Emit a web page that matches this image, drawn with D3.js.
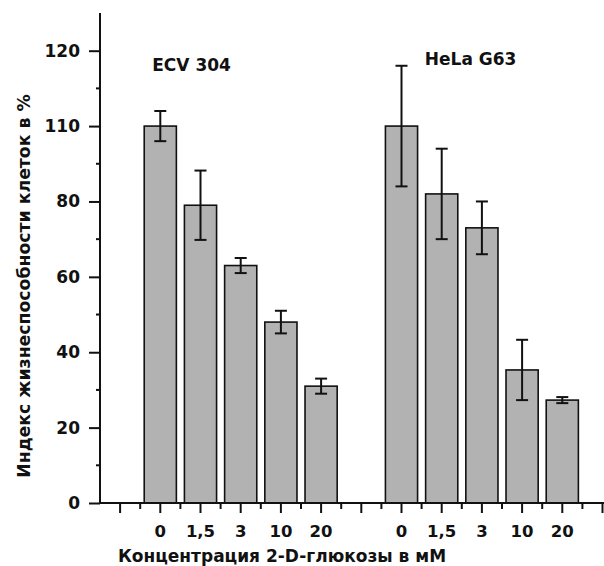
<!DOCTYPE html>
<html>
<head>
<meta charset="utf-8">
<script src="https://cdn.jsdelivr.net/npm/d3@7"></script>
<style>
    body { margin: 0; background: #fff; }
    text { font-family: "DejaVu Sans", sans-serif; font-weight: bold; fill: #111; }
</style>
</head>
<body>
<svg id="chart" width="604" height="566"></svg>
<script>
(function(){
    'use strict';

    // Concentration of 2-D-glucose (mM), same for both cell lines
    var concentrations = ['0', '1,5', '3', '10', '20'];

    // Cell lines
    var groups = ['ECV 304', 'HeLa G63'];

    // Viability index (%) and error bar half-widths
    var ecvValues  = [100, 79, 63, 48, 31];
    var ecvErrors  = [4, 9.2, 2, 3, 2];
    var helaValues = [100, 82, 73, 35.3, 27.3];
    var helaErrors = [16, 12, 7, 8, 0.8];

    // Y tick values and the labels printed on them (as in the original)
    var yTicks      = [0, 20, 40, 60, 80, 100, 120];
    var yTickLabels = ['0', '20', '40', '60', '80', '110', '120'];

    var svg = d3.select('#chart');

    // one empty slot between the two groups
    var slotsPerGroup = concentrations.length + 1;

    var xScale = d3.scaleLinear()
        .domain([-1.5, 11])
        .range([100, 602.5]);

    var yScale = d3.scaleLinear()
        .domain([0, 130])
        .range([503, 13]);

    var barWidth = (xScale(1) - xScale(0)) * 0.8;

    // build bar table
    var bars = [];
    [ecvValues, helaValues].forEach(function(values, g) {
        var errors = g === 0 ? ecvErrors : helaErrors;
        values.forEach(function(v, i) {
            bars.push({ slot: g * slotsPerGroup + i, value: v, err: errors[i], label: concentrations[i] });
        });
    });

    /* bars */
    svg.append('g').selectAll('rect')
        .data(bars)
        .enter()
        .append('rect')
        .attr('x', function(d) { return xScale(d.slot) - barWidth / 2; })
        .attr('y', function(d) { return yScale(d.value); })
        .attr('width', barWidth)
        .attr('height', function(d) { return yScale(0) - yScale(d.value); })
        .attr('fill', '#b2b2b2')
        .attr('stroke', '#111')
        .attr('stroke-width', 1.6);

    /* error bars */
    var capHalf = 6;
    var eg = svg.append('g')
        .attr('stroke', '#111')
        .attr('stroke-width', 2);

    eg.selectAll('line.stem')
        .data(bars)
        .enter()
        .append('line')
        .attr('class', 'stem')
        .attr('x1', function(d) { return xScale(d.slot); })
        .attr('x2', function(d) { return xScale(d.slot); })
        .attr('y1', function(d) { return yScale(d.value + d.err); })
        .attr('y2', function(d) { return yScale(d.value - d.err); });

    ['top', 'bottom'].forEach(function(side) {
        eg.selectAll('line.cap-' + side)
            .data(bars)
            .enter()
            .append('line')
            .attr('class', 'cap-' + side)
            .attr('x1', function(d) { return xScale(d.slot) - capHalf; })
            .attr('x2', function(d) { return xScale(d.slot) + capHalf; })
            .attr('y1', function(d) { return yScale(side === 'top' ? d.value + d.err : d.value - d.err); })
            .attr('y2', function(d) { return yScale(side === 'top' ? d.value + d.err : d.value - d.err); });
    });

    /* y axis */
    var yAxis = d3.axisLeft(yScale)
        .tickValues(yTicks)
        .tickSize(11)
        .tickPadding(9)
        .tickFormat(function(d, i) { return yTickLabels[i]; });

    var yg = svg.append('g')
        .attr('transform', 'translate(100, 0)')
        .call(yAxis);
    yg.select('.domain').remove();
    yg.selectAll('line').attr('stroke', '#111').attr('stroke-width', 2);
    yg.selectAll('text').style('font-size', '17px').style('font-family', '"DejaVu Sans", sans-serif');

    // minor y ticks
    var yMinor = d3.range(10, 130, 20);
    svg.append('g').selectAll('line')
        .data(yMinor)
        .enter()
        .append('line')
        .attr('x1', 96)
        .attr('x2', 100)
        .attr('y1', function(d) { return yScale(d); })
        .attr('y2', function(d) { return yScale(d); })
        .attr('stroke', '#111')
        .attr('stroke-width', 2);

    svg.append('line')
        .attr('x1', 100).attr('x2', 100)
        .attr('y1', yScale(130)).attr('y2', yScale(0) + 1)
        .attr('stroke', '#111')
        .attr('stroke-width', 2);

    /* x axis */
    var majorSlots = d3.range(-1, 12, 1);
    var minorSlots = d3.range(-0.5, 11, 1);

    svg.append('line')
        .attr('x1', 99).attr('x2', 604)
        .attr('y1', yScale(0)).attr('y2', yScale(0))
        .attr('stroke', '#111')
        .attr('stroke-width', 2);

    svg.append('g').selectAll('line')
        .data(majorSlots.filter(function(k) { return xScale(k) < 604; }))
        .enter()
        .append('line')
        .attr('x1', function(d) { return xScale(d); })
        .attr('x2', function(d) { return xScale(d); })
        .attr('y1', yScale(0))
        .attr('y2', yScale(0) + 10)
        .attr('stroke', '#111')
        .attr('stroke-width', 2);

    svg.append('g').selectAll('line')
        .data(minorSlots)
        .enter()
        .append('line')
        .attr('x1', function(d) { return xScale(d); })
        .attr('x2', function(d) { return xScale(d); })
        .attr('y1', yScale(0))
        .attr('y2', yScale(0) + 6)
        .attr('stroke', '#111')
        .attr('stroke-width', 2);

    svg.append('g').selectAll('text')
        .data(bars)
        .enter()
        .append('text')
        .attr('x', function(d) { return xScale(d.slot); })
        .attr('y', 537)
        .attr('text-anchor', 'middle')
        .style('font-size', '16.5px')
        .text(function(d) { return d.label; });

    /* group labels */
    var groupLabelSlot = [-0.2, 6.58];
    var groupLabelValue = [114.5, 116.3];
    svg.append('g').selectAll('text')
        .data(groups)
        .enter()
        .append('text')
        .attr('x', function(d, i) { return xScale(groupLabelSlot[i]); })
        .attr('y', function(d, i) { return yScale(groupLabelValue[i]); })
        .style('font-size', '17px')
        .text(function(d) { return d; });

    /* axis titles */
    svg.append('text')
        .attr('x', 282)
        .attr('y', 562)
        .attr('text-anchor', 'middle')
        .style('font-size', '17px')
        .text('Концентрация 2-D-глюкозы в мМ');

    svg.append('text')
        .attr('transform', 'translate(30, 286) rotate(-90)')
        .attr('text-anchor', 'middle')
        .style('font-size', '17.3px')
        .text('Индекс жизнеспособности клеток в %');
})();
</script>
</body>
</html>
